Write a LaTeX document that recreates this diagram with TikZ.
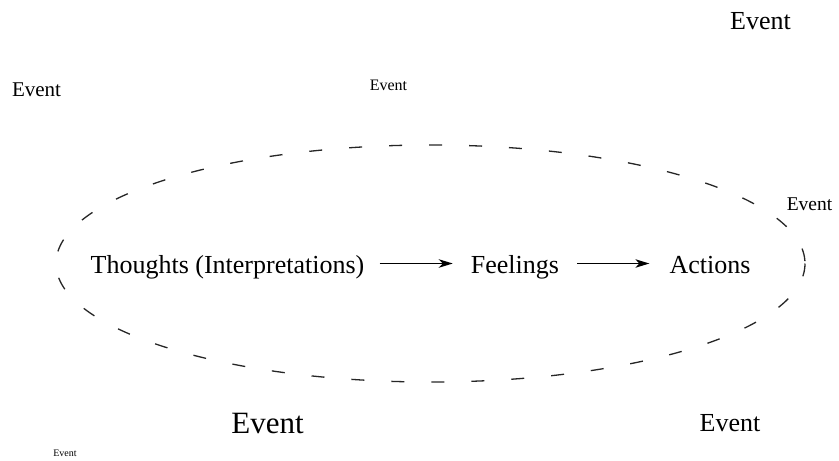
\documentclass[tikz,border=0pt]{standalone}
\usepackage{fontspec}
\setmainfont{Liberation Serif}
\usetikzlibrary{arrows.meta}
\newcommand{\fs}[1]{\fontsize{#1}{#1}\selectfont}
\tikzset{
  lbl/.style={anchor=base, inner sep=0pt, text=black},
  flow/.style={line width=1.3pt, -{Stealth[length=14pt, width=8.5pt, inset=4pt]}},
  cycle/.style={line width=1.3pt, draw=black!85, dash pattern=on 13pt off 27pt},
}
\begin{document}
\begin{tikzpicture}[x=1pt, y=-1pt]
  \useasboundingbox (0,0) rectangle (839,461);
  % dashed loop around the chain
  \draw[cycle] (430.5,263.5) ellipse [x radius=374.5, y radius=118.5];
  % main chain
  \node[lbl, font=\fs{26}] (th) at (227.5,273.5) {Thoughts (Interpretations)};
  \node[lbl, font=\fs{26}] (fe) at (515,273.5) {Feelings};
  \node[lbl, font=\fs{26}] (ac) at (710,273.5) {Actions};
  \draw[flow] ([xshift=15pt, yshift=10pt]th.base east) -- ([xshift=-18pt, yshift=10pt]fe.base west);
  \draw[flow] ([xshift=18pt, yshift=10pt]fe.base east) -- ([xshift=-20pt, yshift=10pt]ac.base west);
  % scattered events
  \node[lbl, font=\fs{26}] (e1) at (760.5,29.3) {Event};
  \node[lbl, font=\fs{21}] (e2) at (36.5,96.7) {Event};
  \node[lbl, font=\fs{16}] (e3) at (388.5,90.7) {Event};
  \node[lbl, font=\fs{19.5}] (e4) at (809.5,210.7) {Event};
  \node[lbl, font=\fs{31}] (e5) at (267.5,433) {Event};
  \node[lbl, font=\fs{26}] (e6) at (730,431.7) {Event};
  \node[lbl, font=\fs{10}] (e7) at (65,456.7) {Event};
\end{tikzpicture}
\end{document}
